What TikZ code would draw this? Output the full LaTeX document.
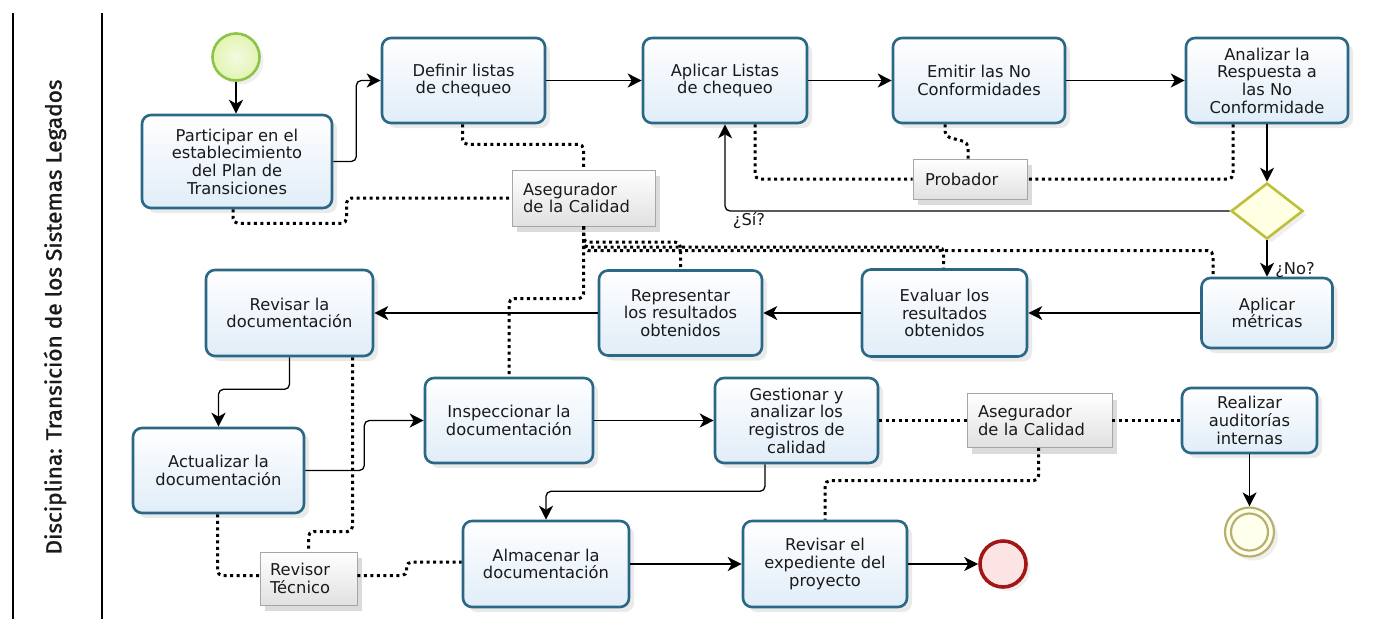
\documentclass[tikz,border=0pt]{standalone}
\usepackage{fontspec}
\usepackage{graphicx}
\setmainfont{DejaVu Sans}
\newfontfamily\lanefont[FakeBold=1.2]{Fira Sans}
\usetikzlibrary{calc,shadows,arrows.meta,shapes.geometric}

\definecolor{taskline}{RGB}{42,104,134}
\definecolor{taskfill}{RGB}{224,237,248}
\definecolor{startline}{RGB}{140,196,72}
\definecolor{startfill}{RGB}{226,244,178}
\definecolor{endline}{RGB}{163,22,22}
\definecolor{endfill}{RGB}{252,228,228}
\definecolor{gwline}{RGB}{190,192,60}
\definecolor{gwfill}{RGB}{255,255,228}
\definecolor{auxline}{RGB}{184,176,110}
\definecolor{auxfill}{RGB}{255,255,238}
\definecolor{ink}{RGB}{26,26,26}

\begin{document}
\begin{tikzpicture}[x=1pt,y=-1pt,
  every node/.style={font=\fontsize{16.3}{17.7}\selectfont, text=ink},
  task/.style={draw=taskline, line width=2.6pt, rounded corners=9pt,
    top color=white, bottom color=taskfill, align=center, inner sep=0pt,
    drop shadow={opacity=0.16, shadow xshift=5pt, shadow yshift=-5pt}},
  anno/.style={draw=gray!70, line width=0.9pt, top color=white,
    bottom color=gray!24, align=left, inner xsep=11pt, inner ysep=0pt,
    drop shadow={opacity=0.28, shadow xshift=5pt, shadow yshift=-6pt}},
  flow/.style={draw=black, line width=1.3pt, rounded corners=5pt,
    -{Stealth[length=14pt,width=14pt,inset=4pt]}},
  assoc/.style={draw=black, line width=3pt, dash pattern=on 3pt off 3.5pt,
    rounded corners=5pt},
  lbl/.style={inner sep=0pt}
]
\fill[white] (0,0) rectangle (1380,619);
\useasboundingbox (0,0) rectangle (1380,619);

% pool / lane frame
\draw[line width=1.6pt] (13,13) -- (13,619);
\draw[line width=1.6pt] (102,13) -- (102,619);
\node[rotate=90, inner sep=0pt] (lane) at (55,317)
  {\resizebox{475pt}{\height}{\lanefont\fontsize{22}{24}\selectfont Disciplina: Transición de los Sistemas Legados}};

% events and gateway
\node[circle, draw=startline, line width=2.6pt, inner color=startfill!40,
  outer color=startfill, minimum size=47pt, inner sep=0pt,
  drop shadow={opacity=0.12, shadow xshift=4pt, shadow yshift=-4pt}] (start) at (236,57) {};
\node[circle, draw=endline, line width=3.6pt, fill=endfill, minimum size=46pt, inner sep=0pt,
  drop shadow={opacity=0.12, shadow xshift=4pt, shadow yshift=-4pt}] (endR) at (1003,564) {};
\node[circle, draw=auxline, line width=2.2pt, fill=auxfill, minimum size=49pt, inner sep=0pt,
  drop shadow={opacity=0.12, shadow xshift=4pt, shadow yshift=-4pt}] (endD) at (1249.5,532) {};
\draw[auxline, line width=2.2pt] (endD.center) circle (18.5pt);
\node[diamond, draw=gwline, line width=2.6pt, fill=gwfill, aspect=1.29,
  minimum width=72pt, minimum height=56pt, inner sep=0pt,
  drop shadow={opacity=0.12, shadow xshift=4pt, shadow yshift=-4pt}] (gw) at (1267,211) {};

% tasks
\node[task, minimum width=190pt, minimum height=93pt] (p1) at (237,161.5)
  {Participar en el\\establecimiento\\del Plan de\\Transiciones};
\node[task, minimum width=163pt, minimum height=85pt] (def) at (463.5,80.5)
  {Definir listas\\de chequeo};
\node[task, minimum width=164pt, minimum height=85pt] (apl) at (725,80.5)
  {Aplicar Listas\\de chequeo};
\node[task, minimum width=172pt, minimum height=85pt] (emi) at (979,80.5)
  {Emitir las No\\Conformidades};
\node[task, minimum width=162pt, minimum height=85pt] (ana) at (1267,80.5)
  {Analizar la\\Respuesta a\\las No\\Conformidade};
\node[task, minimum width=131pt, minimum height=70pt] (met) at (1267,313)
  {Aplicar\\métricas};
\node[task, minimum width=165pt, minimum height=87pt] (eva) at (944.5,313)
  {Evaluar los\\resultados\\obtenidos};
\node[task, minimum width=163pt, minimum height=85pt] (rep) at (680.5,313)
  {Representar\\los resultados\\obtenidos};
\node[task, minimum width=167pt, minimum height=86pt] (rev) at (289.5,313)
  {Revisar la\\documentación};
\node[task, minimum width=171pt, minimum height=85pt] (act) at (218.5,470.5)
  {Actualizar la\\documentación};
\node[task, minimum width=168pt, minimum height=85pt] (ins) at (509,420.5)
  {Inspeccionar la\\documentación};
\node[task, minimum width=163pt, minimum height=85pt] (ges) at (796.5,420.5)
  {Gestionar y\\analizar los\\registros de\\calidad};
\node[task, minimum width=166pt, minimum height=86pt] (alm) at (546,564)
  {Almacenar la\\documentación};
\node[task, minimum width=164pt, minimum height=86pt] (exp) at (825,564)
  {Revisar el\\expediente del\\proyecto};
\node[task, minimum width=135pt, minimum height=65pt] (aud) at (1249.5,420.5)
  {Realizar\\auditorías\\internas};

% roles
\node[anno, text width=121pt, minimum height=56pt] (qa1) at (583.5,198)
  {Asegurador\\de la Calidad};
\node[anno, text width=90pt, minimum height=40pt, inner xsep=12pt] (prob) at (970,179)
  {Probador};
\node[anno, text width=77pt, minimum height=53pt, inner xsep=10pt] (revt) at (308.5,578.5)
  {Revisor\\Técnico};
\node[anno, text width=123pt, minimum height=54pt] (qa2) at (1039.5,420.5)
  {Asegurador\\de la Calidad};

% sequence flows
\draw[flow] (start.south) -- (start.south |- p1.north);
\draw[flow] (p1.east) -- ++(23,0) |- (def.west);
\draw[flow] (def.east) -- (apl.west);
\draw[flow] (apl.east) -- (emi.west);
\draw[flow] (emi.east) -- (ana.west);
\draw[flow] (ana.south) -- (ana.south |- gw.north);
\draw[flow] (gw.west) -| (apl.south);
\draw[flow] (gw.south) -- (gw.south |- met.north);
\draw[flow] (met.west) -- (met.west -| eva.east);
\draw[flow] (eva.west) -- (eva.west -| rep.east);
\draw[flow] (rep.west) -- (rep.west -| rev.east);
\draw[flow] (rev.south) -- ++(0,32) -| (act.north);
\draw[flow] (act.east) -- ++(59,0) |- (ins.west);
\draw[flow] (ins.east) -- (ins.east -| ges.west);
\draw[flow] ($(ges.south)+(-31.5,0)$) -- ++(0,27) -| (alm.north);
\draw[flow] (alm.east) -- (alm.east -| exp.west);
\draw[flow] (exp.east) -- (exp.east -| endR.west);
\draw[flow] (aud.south) -- (aud.south |- endD.north);

\node[lbl] (si) at (749,221) {¿Sí?};
\node[lbl] (no) at (1295,270) {¿No?};

% associations
\draw[assoc] ($(p1.south)+(-4,0)$) -- ++(0,14) -| ($(qa1.west)+(-165,0)$) -- (qa1.west);
\draw[assoc] ($(def.south)+(-1,0)$) -- ++(0,20) -| (qa1.north);
\draw[assoc] (qa1.south) |- ($(ins.north)+(0,-78)$) -- (ins.north);
\draw[assoc] (qa1.south) |- ($(rep.north)+(0,-27)$) -- (rep.north);
\draw[assoc] (qa1.south) |- ($(eva.north)+(-1,-21)$) -- ($(eva.north)+(-1,0)$);
\draw[assoc] (qa1.south) |- ($(met.north)+(-54,-26)$) -- ($(met.north)+(-54,0)$);
\draw[assoc] ($(emi.south)+(-34,0)$) -- ++(0,12) -- ($(prob.north)+(-2,-16)$) -- ($(prob.north)+(-2,0)$);
\draw[assoc] ($(apl.south)+(30,0)$) |- (prob.west);
\draw[assoc] ($(ana.south)+(-34,0)$) |- (prob.east);
\draw[assoc] ($(act.south)+(-1,0)$) |- ($(revt.west)+(0,-3)$);
\draw[assoc] ($(rev.south)+(63,0)$) |- ($(revt.north)+(0,-20)$) -- (revt.north);
\draw[assoc] ($(revt.east)+(0,-3)$) -| ($(alm.west)+(-55,-2)$) -- ($(alm.west)+(0,-2)$);
\draw[assoc] (ges.east) -- (qa2.west);
\draw[assoc] (qa2.east) -- (aud.west);
\draw[assoc] ($(qa2.south)+(-1,0)$) |- ($(exp.north)+(0,-39)$) -- (exp.north);
\end{tikzpicture}
\end{document}
